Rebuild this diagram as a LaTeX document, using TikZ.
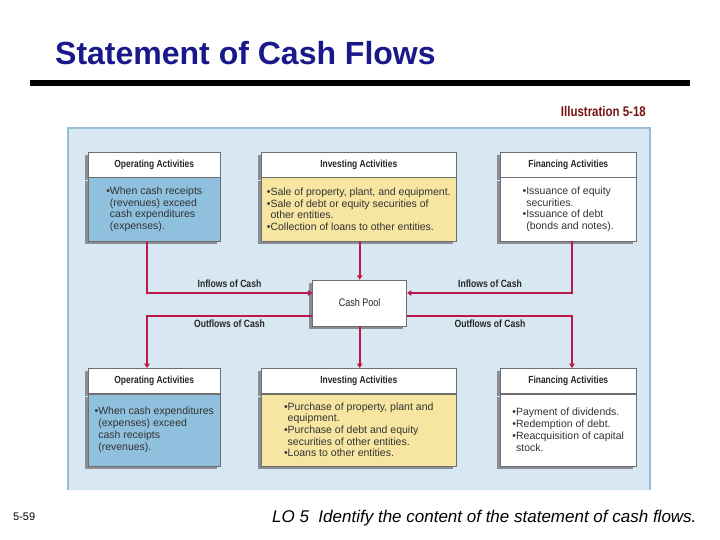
\documentclass[tikz,border=0pt]{standalone}
\usepackage{fontspec}
\setmainfont{Liberation Sans}
\newfontfamily\condf[FakeStretch=0.82]{Liberation Sans}
\usetikzlibrary{arrows.meta,shadows}
\definecolor{titleblue}{RGB}{25,25,140}
\definecolor{illred}{RGB}{120,20,20}
\definecolor{panelblue}{RGB}{215,232,242}
\definecolor{panelborder}{RGB}{150,190,215}
\definecolor{opblue}{RGB}{143,192,222}
\definecolor{ivyellow}{RGB}{246,230,162}
\definecolor{flowred}{RGB}{188,24,76}
\definecolor{shadowgray}{RGB}{138,142,148}
\definecolor{boxedge}{RGB}{110,110,110}
\begin{document}
\begin{tikzpicture}[x=1pt,y=-1pt,
  shad/.style={drop shadow={shadow xshift=-3.5pt,shadow yshift=-3pt,fill=shadowgray,opacity=1}},
  hdr/.style={shad,draw=boxedge,line width=0.5pt,fill=white,minimum height=25pt,inner sep=0pt,
    anchor=north west,font=\condf\bfseries\fontsize{10.3}{12}\selectfont,text=black!85},
  bodybox/.style={shad,draw=boxedge,line width=0.5pt,anchor=north,inner sep=0pt,align=left,
    font=\fontsize{10.5}{11.7}\selectfont,text=black!80},
  flow/.style={color=flowred,draw=flowred,line width=2.2pt,-{Triangle[length=4.5pt,width=5.5pt]}},
  lbl/.style={inner sep=0pt,font=\condf\bfseries\fontsize{10.5}{12}\selectfont,text=black!85}
]
\useasboundingbox (0,0) rectangle (720,540);
\fill[white] (0,0) rectangle (720,540);

% title and rule
\node[anchor=base west,inner sep=0pt,text=titleblue,font=\bfseries\fontsize{32}{36}\selectfont] (title) at (55,65) {Statement of Cash Flows};
\fill[black] (30,80.5) rectangle (690,86);
\node[anchor=base east,inner sep=0pt,text=illred,font=\condf\bfseries\fontsize{14}{16}\selectfont] (ill) at (646,117) {Illustration 5-18};

% panel
\fill[panelblue] (68,128) rectangle (650,490);
\draw[panelborder,line width=1.2pt] (68,490) -- (68,128) -- (650,128) -- (650,490);

% top row
\node[hdr,minimum width=132pt] (opH) at (88,152) {Operating Activities};
\node[bodybox,fill=opblue,minimum width=132pt,minimum height=63pt] (opBd) at (opH.south)
 {•When cash receipts\\\hphantom{•}(revenues) exceed\\\hphantom{•}cash expenditures\\\hphantom{•}(expenses).};
\node[hdr,minimum width=195pt] (ivH) at (261,152) {Investing Activities};
\node[bodybox,fill=ivyellow,minimum width=195pt,minimum height=63pt] (ivBd) at (ivH.south)
 {•Sale of property, plant, and equipment.\\•Sale of debt or equity securities of\\\hphantom{•}other entities.\\•Collection of loans to other entities.};
\node[hdr,minimum width=136pt] (fnH) at (500,152) {Financing Activities};
\node[bodybox,fill=white,minimum width=136pt,minimum height=63pt] (fnBd) at (fnH.south)
 {•Issuance of equity\\\hphantom{•}securities.\\•Issuance of debt\\\hphantom{•}(bonds and notes).};

% cash pool
\node[shad,draw=boxedge,line width=0.5pt,fill=white,minimum width=94pt,minimum height=46pt,inner sep=0pt,
  font=\condf\fontsize{11}{13}\selectfont,text=black!85] (cp) at (359.7,303) {Cash Pool};

% bottom row
\node[hdr,minimum width=132pt] (opH2) at (88,368) {Operating Activities};
\node[bodybox,fill=opblue,minimum width=132pt,minimum height=72pt] (opBd2) at (opH2.south)
 {•When cash expenditures\\\hphantom{•}(expenses) exceed\\\hphantom{•}cash receipts\\\hphantom{•}(revenues).};
\node[hdr,minimum width=195pt] (ivH2) at (261,368) {Investing Activities};
\node[bodybox,fill=ivyellow,minimum width=195pt,minimum height=72pt] (ivBd2) at (ivH2.south)
 {•Purchase of property, plant and\\\hphantom{•}equipment.\\•Purchase of debt and equity\\\hphantom{•}securities of other entities.\\•Loans to other entities.};
\node[hdr,minimum width=136pt] (fnH2) at (500,368) {Financing Activities};
\node[bodybox,fill=white,minimum width=136pt,minimum height=72pt] (fnBd2) at (fnH2.south)
 {•Payment of dividends.\\•Redemption of debt.\\•Reacquisition of capital\\\hphantom{•}stock.};

% connectors
\coordinate (L) at (147,0);
\coordinate (R) at (572,0);
\coordinate (yin) at (0,293);
\coordinate (yout) at (0,316);
\draw[flow] (opBd.south -| L) |- (cp.west |- yin);
\draw[flow] (ivBd.south -| cp.north) -- (cp.north);
\draw[flow] (fnBd.south -| R) |- (cp.east |- yin);
\draw[flow] (cp.west |- yout) -| (opH2.north -| L);
\draw[flow] (cp.south) -- (ivH2.north -| cp.south);
\draw[flow] (cp.east |- yout) -| (fnH2.north -| R);

\node[lbl] (in1) at (229.5,284) {Inflows of Cash};
\node[lbl] (in2) at (490,284) {Inflows of Cash};
\node[lbl] (out1) at (229.5,323.5) {Outflows of Cash};
\node[lbl] (out2) at (490,323.5) {Outflows of Cash};

% footer
\node[anchor=base west,inner sep=0pt,font=\fontsize{11}{13}\selectfont] (pg) at (13,520) {5-59};
\node[anchor=base west,inner sep=0pt,font=\itshape\fontsize{17}{20}\selectfont] (lo) at (272,522) {LO 5\ \ Identify the content of the statement of cash flows.};
\end{tikzpicture}
\end{document}
